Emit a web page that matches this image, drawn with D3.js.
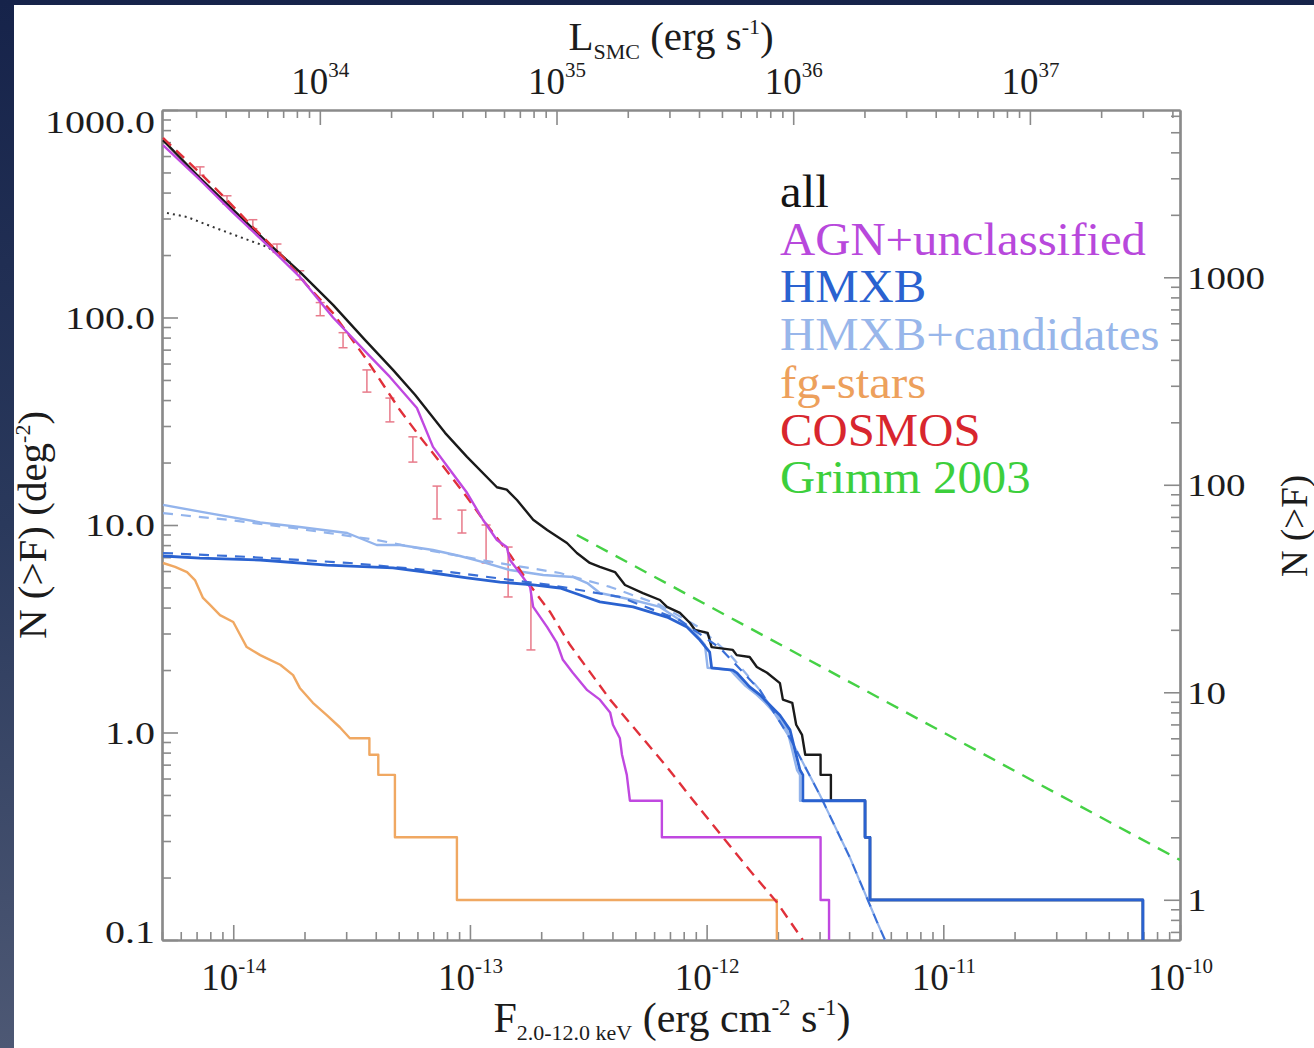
<!DOCTYPE html>
<html>
<head>
<meta charset="utf-8">
<script src="https://cdn.jsdelivr.net/npm/d3@7"></script>
<style>
  html, body { margin: 0; padding: 0; }
  body { width: 1314px; height: 1048px; overflow: hidden;
         background: linear-gradient(180deg, #16234a 0%, #2a395c 50%, #4d5874 100%); }
  svg { display: block; }
  text { font-family: "Liberation Serif", "Times New Roman", serif; fill: #1c1c1c; }
</style>
</head>
<body>
<svg id="chart" width="1314" height="1048"></svg>
<script>
// ---- Cumulative source densities N(>F) [deg^-2] vs 2.0-12.0 keV flux [erg cm^-2 s^-1] ----

// all sources
const allFlux = [5.05e-15, 7.24e-15, 1.0e-14, 1.36e-14, 1.91e-14, 2.64e-14, 3.60e-14, 4.73e-14, 5.86e-14, 7.85e-14,
  9.72e-14, 1.30e-13, 1.43e-13, 1.58e-13, 1.85e-13, 2.12e-13, 2.57e-13, 2.83e-13, 3.21e-13, 3.54e-13,
  4.10e-13, 4.52e-13, 5.38e-13, 6.35e-13, 6.80e-13, 7.71e-13, 8.51e-13, 8.93e-13, 1.01e-12, 1.05e-12,
  1.29e-12, 1.34e-12, 1.52e-12, 1.63e-12, 1.80e-12, 2.04e-12, 2.10e-12, 2.30e-12, 2.39e-12, 2.53e-12,
  2.61e-12, 3.03e-12, 3.03e-12, 3.35e-12, 3.35e-12, 4.67e-12, 4.67e-12, 4.90e-12, 4.90e-12, 6.97e-11, 6.97e-11];
const allN = [716, 470, 330, 236, 166, 115, 78, 55.9, 42.4, 27.8,
  21.3, 15.2, 14.8, 13.2, 10.6, 9.46, 8.19, 7.33, 6.56, 6.28,
  5.93, 5.14, 4.70, 4.35, 4.03, 3.77, 3.37, 3.12, 3.02, 2.58,
  2.50, 2.36, 2.31, 2.07, 1.94, 1.73, 1.44, 1.39, 1.09, 0.973,
  0.781, 0.781, 0.625, 0.625, 0.469, 0.469, 0.3125, 0.3125, 0.156, 0.156, 0.1];

// all sources, incompleteness-uncorrected (dotted)
const allRawFlux = [5.25e-15, 6.38e-15, 8.21e-15, 1.07e-14, 1.39e-14, 1.74e-14];
const allRawN = [319, 305, 273, 244, 219, 185];

// AGN + unclassified
const agnFlux = [5.05e-15, 7.24e-15, 1.0e-14, 1.39e-14, 1.91e-14, 2.64e-14, 3.67e-14, 4.59e-14, 5.97e-14, 6.98e-14,
  8.24e-14, 9.72e-14, 1.135e-13, 1.30e-13, 1.43e-13, 1.476e-13, 1.625e-13, 1.795e-13, 1.85e-13, 2.12e-13,
  2.33e-13, 2.47e-13, 2.72e-13, 3.13e-13, 3.54e-13, 3.91e-13, 4.02e-13, 4.30e-13, 4.39e-13, 4.60e-13,
  4.74e-13, 6.47e-13, 6.47e-13, 3.03e-12, 3.03e-12, 3.29e-12, 3.29e-12];
const agnN = [678, 460, 319, 224, 157, 100, 67.4, 51.7, 36.6, 23.8,
  18.4, 14.3, 10.6, 8.47, 7.83, 6.78, 5.87, 5.03, 4.03, 3.22,
  2.70, 2.24, 1.94, 1.60, 1.44, 1.25, 1.09, 0.9375, 0.781, 0.625,
  0.469, 0.469, 0.3125, 0.3125, 0.156, 0.156, 0.1];

// HMXB
const hmxbFlux = [5.05e-15, 7.24e-15, 1.30e-14, 2.49e-14, 4.73e-14, 6.98e-14, 9.72e-14, 1.34e-13, 1.85e-13, 2.40e-13,
  2.92e-13, 3.54e-13, 4.89e-13, 6.80e-13, 8.26e-13, 9.37e-13, 1.03e-12, 1.05e-12, 1.29e-12, 1.34e-12,
  1.52e-12, 1.68e-12, 1.80e-12, 2.04e-12, 2.25e-12, 2.36e-12, 2.48e-12, 2.55e-12, 2.55e-12, 4.67e-12,
  4.67e-12, 4.90e-12, 4.90e-12, 6.97e-11, 6.97e-11];
const hmxbN = [7.09, 6.93, 6.78, 6.41, 6.21, 5.87, 5.56, 5.31, 5.14, 4.97,
  4.60, 4.26, 4.03, 3.60, 3.22, 2.79, 2.44, 2.05, 2.00, 1.94,
  1.66, 1.52, 1.40, 1.21, 1.03, 0.824, 0.659, 0.625, 0.469, 0.469,
  0.3125, 0.3125, 0.156, 0.156, 0.1];

// HMXB + candidates
const hmxbCandFlux = [5.05e-15, 7.24e-15, 1.30e-14, 1.91e-14, 3.03e-14, 4.04e-14, 5.06e-14, 6.98e-14, 9.08e-14, 1.135e-13,
  1.476e-13, 2.04e-13, 2.72e-13, 3.13e-13, 3.54e-13, 4.89e-13, 6.35e-13, 7.71e-13, 8.93e-13, 9.84e-13,
  1.01e-12, 1.26e-12, 1.32e-12, 1.45e-12, 1.63e-12, 1.77e-12, 1.98e-12, 2.19e-12, 2.30e-12, 2.41e-12,
  2.48e-12, 2.48e-12, 4.67e-12, 4.67e-12, 4.90e-12, 4.90e-12, 6.97e-11, 6.97e-11];
const hmxbCandN = [12.5, 11.6, 10.3, 9.78, 9.15, 8.01, 8.01, 7.58, 7.09, 6.63,
  6.07, 5.74, 5.62, 5.25, 4.70, 4.35, 4.03, 3.48, 3.02, 2.64,
  2.05, 2.00, 1.89, 1.69, 1.52, 1.39, 1.21, 1.03, 0.824, 0.659,
  0.625, 0.469, 0.469, 0.3125, 0.3125, 0.156, 0.156, 0.1];

// model curves for the HMXB samples (dashed)
const hmxbFitFlux = [5.05e-15, 1.18e-14, 3.11e-14, 8.24e-14, 2.18e-13, 4.30e-13, 7.71e-13, 1.14e-12, 1.68e-12,
  2.25e-12, 3.01e-12, 4.04e-12, 5.25e-12, 5.67e-12];
const hmxbFitN = [7.33, 7.01, 6.56, 5.93, 5.14, 4.50, 3.48, 2.55, 1.60, 0.94, 0.50, 0.248, 0.122, 0.1];
const hmxbCandFitFlux = [5.05e-15, 9.41e-15, 1.79e-14, 4.04e-14, 6.59e-14, 1.25e-13, 2.40e-13, 3.91e-13, 6.35e-13,
  9.37e-13, 1.26e-12, 1.68e-12, 2.25e-12, 3.01e-12, 4.04e-12, 5.25e-12, 5.67e-12];
const hmxbCandFitN = [11.4, 10.6, 9.68, 8.47, 7.58, 6.63, 5.87, 5.03, 4.12, 3.19, 2.36, 1.60, 0.94, 0.50, 0.248, 0.122, 0.1];

// foreground stars
const starFlux = [5.05e-15, 5.68e-15, 6.38e-15, 6.89e-15, 7.45e-15, 7.98e-15, 8.79e-15, 1.0e-14, 1.07e-14, 1.14e-14,
  1.30e-14, 1.43e-14, 1.58e-14, 1.79e-14, 1.91e-14, 2.17e-14, 2.49e-14, 2.82e-14, 3.11e-14, 3.76e-14,
  3.76e-14, 4.10e-14, 4.10e-14, 4.82e-14, 4.82e-14, 8.81e-14, 8.81e-14, 1.98e-12, 1.98e-12];
const starN = [6.56, 6.28, 5.93, 5.43, 4.45, 4.12, 3.68, 3.41, 2.95, 2.58,
  2.36, 2.24, 2.12, 1.89, 1.64, 1.39, 1.21, 1.06, 0.9375, 0.9375,
  0.781, 0.781, 0.625, 0.625, 0.3125, 0.3125, 0.156, 0.156, 0.1];

// COSMOS background model (dashed) and measured points with errors
const cosmosFlux = [5.05e-15, 7.24e-15, 9.41e-15, 1.21e-14, 1.62e-14, 2.05e-14, 2.64e-14, 3.67e-14, 5.06e-14, 6.15e-14,
  7.47e-14, 9.72e-14, 1.18e-13, 1.48e-13, 1.79e-13, 2.18e-13, 2.65e-13, 3.21e-13, 3.91e-13, 5.23e-13,
  6.79e-13, 8.75e-13, 1.17e-12, 1.52e-12, 1.98e-12, 2.55e-12];
const cosmosN = [733, 497, 368, 273, 196, 143, 105, 62.4, 35.8, 26.6,
  20.1, 13.6, 10.0, 7.17, 5.14, 3.81, 2.64, 1.96, 1.44, 0.973,
  0.683, 0.473, 0.313, 0.217, 0.152, 0.1];
const cosmosPtFlux = [7.24e-15, 9.41e-15, 1.21e-14, 1.53e-14, 1.91e-14, 2.33e-14, 2.91e-14, 3.67e-14, 4.59e-14, 5.74e-14,
  7.26e-14, 9.25e-14, 1.17e-13, 1.45e-13, 1.81e-13];
const cosmosPtLow = [485, 352, 268, 206, 152, 102, 71.5, 43.7, 31.4, 20.1, 10.7, 9.15, 6.56, 4.50, 2.50];
const cosmosPtHigh = [532, 386, 296, 226, 168, 118, 84.5, 55.9, 40.9, 26.6, 15.4, 11.8, 10.0, 7.83, 5.14];

// Grimm et al. 2003 HMXB luminosity function, scaled to the SMC
const grimmFlux = [2.83e-13, 1e-10];
const grimmN = [8.95, 0.243];

// ---- axes ----
const fluxTicks = [1e-14, 1e-13, 1e-12, 1e-11, 1e-10];
const lumTicks = [1e34, 1e35, 1e36, 1e37];
const densityTicks = [0.1, 1, 10, 100, 1000];
const countTicks = [1, 10, 100, 1000];

const legendLabels = ["all", "AGN+unclassified", "HMXB", "HMXB+candidates", "fg-stars", "COSMOS", "Grimm 2003"];
const legendColors = ["#141414", "#b848dc", "#2a62d0", "#98b6ea", "#eda05c", "#d8262e", "#3ccf3c"];

const surveyArea = 6.4;                        // deg^2
const distCm = 60 * 3.0857e21;                 // 60 kpc
const lumFactor = 4 * Math.PI * distCm * distCm;

const plot = { left: 162, right: 1180, top: 110, bottom: 940 };
const svg = d3.select("#chart");

// panel
svg.append("rect").attr("x", 14).attr("y", 5).attr("width", 1300).attr("height", 1043).attr("fill", "#ffffff");

const x = d3.scaleLog().domain([5e-15, 1e-10]).range([plot.left, plot.right]);
const y = d3.scaleLog().domain([0.1, 1000]).range([plot.bottom, plot.top]);
const xL = d3.scaleLog().domain(x.domain().map(f => f * lumFactor)).range(x.range());
const yC = d3.scaleLog().domain(y.domain().map(n => n * surveyArea)).range(y.range());

const axisColor = "#8a8a8a";
const minorOf = (scale, majors) => scale.ticks().filter(v => !majors.some(m => Math.abs(v / m - 1) < 1e-6));

function style(g) {
  g.attr("font-family", null).attr("font-size", null);
  g.selectAll(".tick line").attr("stroke", axisColor).attr("stroke-width", 1.6);
  g.select(".domain").attr("stroke", axisColor).attr("stroke-width", 2.2);
  return g;
}

// bottom (flux)
style(svg.append("g").attr("transform", `translate(0,${plot.bottom})`)
  .call(d3.axisBottom(x).tickValues(minorOf(x, fluxTicks)).tickSize(-8).tickSizeOuter(0).tickFormat("")));
const gB = style(svg.append("g").attr("transform", `translate(0,${plot.bottom})`)
  .call(d3.axisBottom(x).tickValues(fluxTicks).tickSize(-15).tickSizeOuter(0).tickFormat(() => "")));
gB.selectAll(".tick text").attr("y", 50).attr("dy", null).attr("font-size", 37).each(function (d) {
  const t = d3.select(this);
  t.append("tspan").text("10");
  t.append("tspan").attr("dy", -17).attr("font-size", 21).text(String(Math.round(Math.log10(d))));
});

// top (luminosity)
style(svg.append("g").attr("transform", `translate(0,${plot.top})`)
  .call(d3.axisTop(xL).tickValues(minorOf(xL, lumTicks)).tickSize(-8).tickSizeOuter(0).tickFormat("")));
const gT = style(svg.append("g").attr("transform", `translate(0,${plot.top})`)
  .call(d3.axisTop(xL).tickValues(lumTicks).tickSize(-15).tickSizeOuter(0).tickFormat(() => "")));
gT.selectAll(".tick text").attr("y", -16).attr("dy", null).attr("font-size", 37).each(function (d) {
  const t = d3.select(this);
  t.append("tspan").text("10");
  t.append("tspan").attr("dy", -17).attr("font-size", 21).text(String(Math.round(Math.log10(d))));
});

// left (density)
style(svg.append("g").attr("transform", `translate(${plot.left},0)`)
  .call(d3.axisLeft(y).tickValues(minorOf(y, densityTicks)).tickSize(-9).tickSizeOuter(0).tickFormat("")));
const gL = style(svg.append("g").attr("transform", `translate(${plot.left},0)`)
  .call(d3.axisLeft(y).tickValues(densityTicks).tickSize(-16).tickSizeOuter(0).tickFormat(d3.format(".1f"))));
gL.selectAll(".tick text")
  .attr("font-size", 32).attr("x", 0).attr("dy", "0.34em")
  .attr("transform", d => {
    const shift = Math.min(Math.max(y(d), plot.top + 12), plot.bottom - 8) - y(d);
    return `translate(-7,${shift}) scale(1.25,1)`;
  });

// right (counts)
style(svg.append("g").attr("transform", `translate(${plot.right},0)`)
  .call(d3.axisRight(yC).tickValues(minorOf(yC, countTicks)).tickSize(-9).tickSizeOuter(0).tickFormat("")));
const gR = style(svg.append("g").attr("transform", `translate(${plot.right},0)`)
  .call(d3.axisRight(yC).tickValues(countTicks).tickSize(-16).tickSizeOuter(0).tickFormat(d3.format("d"))));
gR.selectAll(".tick text")
  .attr("font-size", 32).attr("x", 0).attr("dy", "0.34em")
  .attr("transform", "translate(7,0) scale(1.22,1)");

// axis titles
const topTitle = svg.append("text").attr("x", 671).attr("y", 50).attr("text-anchor", "middle").attr("font-size", 41);
topTitle.append("tspan").text("L");
topTitle.append("tspan").attr("font-size", 22).attr("dy", 9).text("SMC");
topTitle.append("tspan").attr("dy", -9).text(" (erg s");
topTitle.append("tspan").attr("font-size", 22).attr("dy", -16).text("-1");
topTitle.append("tspan").attr("dy", 16).text(")");

const botTitle = svg.append("text").attr("x", 672).attr("y", 1032).attr("text-anchor", "middle").attr("font-size", 42);
botTitle.append("tspan").text("F");
botTitle.append("tspan").attr("font-size", 22).attr("dy", 8).text("2.0-12.0 keV");
botTitle.append("tspan").attr("dy", -8).text(" (erg cm");
botTitle.append("tspan").attr("font-size", 23).attr("dy", -17).text("-2");
botTitle.append("tspan").attr("dy", 17).text(" s");
botTitle.append("tspan").attr("font-size", 23).attr("dy", -17).text("-1");
botTitle.append("tspan").attr("dy", 17).text(")");

const leftTitle = svg.append("text").attr("transform", "translate(46,525) rotate(-90)")
  .attr("text-anchor", "middle").attr("font-size", 41);
leftTitle.append("tspan").text("N (>F) (deg");
leftTitle.append("tspan").attr("font-size", 22).attr("dy", -16).text("-2");
leftTitle.append("tspan").attr("dy", 16).text(")");

svg.append("text").attr("transform", "translate(1307,526) rotate(-90)")
  .attr("text-anchor", "middle").attr("font-size", 37).text("N (>F)");

// ---- curves ----
svg.append("clipPath").attr("id", "plotClip").append("rect")
  .attr("x", plot.left).attr("y", plot.top)
  .attr("width", plot.right - plot.left).attr("height", plot.bottom - plot.top);
const layer = svg.append("g").attr("clip-path", "url(#plotClip)");

const line = d3.line().x(d => x(d[0])).y(d => y(d[1]));
const zipXY = (xs, ys) => xs.map((v, i) => [v, ys[i]]);

function drawCurve(xs, ys, color, width, dash) {
  layer.append("path").datum(zipXY(xs, ys))
    .attr("d", line).attr("fill", "none")
    .attr("stroke", color).attr("stroke-width", width)
    .attr("stroke-linejoin", "round")
    .attr("stroke-dasharray", dash || null);
}

// COSMOS error bars
const capHalf = 4.5;
const bars = layer.append("g").attr("stroke", "#e87a8a").attr("stroke-width", 1.5);
cosmosPtFlux.forEach((f, i) => {
  const cx = x(f), y0 = y(cosmosPtLow[i]), y1 = y(cosmosPtHigh[i]);
  bars.append("line").attr("x1", cx).attr("x2", cx).attr("y1", y0).attr("y2", y1);
  bars.append("line").attr("x1", cx - capHalf).attr("x2", cx + capHalf).attr("y1", y0).attr("y2", y0);
  bars.append("line").attr("x1", cx - capHalf).attr("x2", cx + capHalf).attr("y1", y1).attr("y2", y1);
});

drawCurve(starFlux, starN, "#f0a862", 2.4);
drawCurve(grimmFlux, grimmN, "#45d145", 2.4, "13,9");
drawCurve(hmxbCandFlux, hmxbCandN, "#93b4ec", 2.4);
drawCurve(hmxbCandFitFlux, hmxbCandFitN, "#93b4ec", 2.2, "10,8");
drawCurve(allFlux, allN, "#1a1a1a", 2.4);
drawCurve(allRawFlux, allRawN, "#333333", 2, "2,4");
drawCurve(cosmosFlux, cosmosN, "#e0303a", 2.4, "11,7");
drawCurve(agnFlux, agnN, "#c048e0", 2.4);
drawCurve(hmxbFitFlux, hmxbFitN, "#3a6fd6", 2.2, "10,8");
drawCurve(hmxbFlux, hmxbN, "#2a62d0", 2.8);

// ---- legend ----
const legend = svg.append("g").attr("font-size", 46);
legendLabels.forEach((lab, i) => {
  legend.append("text")
    .attr("transform", `translate(780,${207 + i * 47.7}) scale(1.06,1)`)
    .style("fill", legendColors[i]).text(lab);
});
</script>
</body>
</html>
